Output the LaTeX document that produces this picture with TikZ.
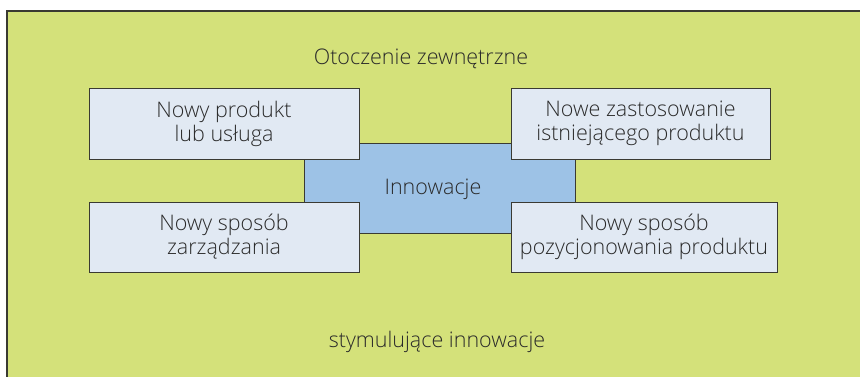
\documentclass[tikz,border=0pt]{standalone}
\usepackage{fontspec}
\setmainfont{Open Sans}[UprightFont=* Light]
\definecolor{envgreen}{HTML}{D4E17A}
\definecolor{boxfill}{HTML}{E1E9F3}
\definecolor{corefill}{HTML}{9DC2E6}
\definecolor{edge}{HTML}{3A3A32}
\definecolor{ink}{HTML}{2A2A2A}
\begin{document}
\begin{tikzpicture}[x=1pt,y=-1pt,
  every node/.style={text=ink,font=\fontsize{21.5}{24}\selectfont},
  itembox/.style={draw=edge,line width=1pt,fill=boxfill,align=center,inner sep=0pt}]
\useasboundingbox (0,0) rectangle (860,376);
\clip (0,0) rectangle (860,376);
% surrounding environment
\draw[draw=edge,line width=1.2pt,fill=envgreen] (7,11) rectangle (880,400);
\node (env) at (421,59) {Otoczenie zewnętrzne};
\node (stim) at (437,342) {stymulujące innowacje};
% central box
\node[itembox,fill=corefill,minimum width=271pt,minimum height=90pt] (core) at (439.5,188) {};
\node (coretext) at (433,189) {Innowacje};
% the four kinds of innovation
\node[itembox,minimum width=270pt,minimum height=71pt] (prod) at (224,123.5) {Nowy produkt\\lub usługa};
\node[itembox,minimum width=259pt,minimum height=71pt] (use) at (640.5,123.5) {Nowe zastosowanie\\istniejącego produktu};
\node[itembox,minimum width=270pt,minimum height=70pt] (mgmt) at (224,237) {Nowy sposób\\zarządzania};
\node[itembox,minimum width=266pt,minimum height=70pt] (pos) at (644,237) {Nowy sposób\\pozycjonowania produktu};
\end{tikzpicture}
\end{document}
